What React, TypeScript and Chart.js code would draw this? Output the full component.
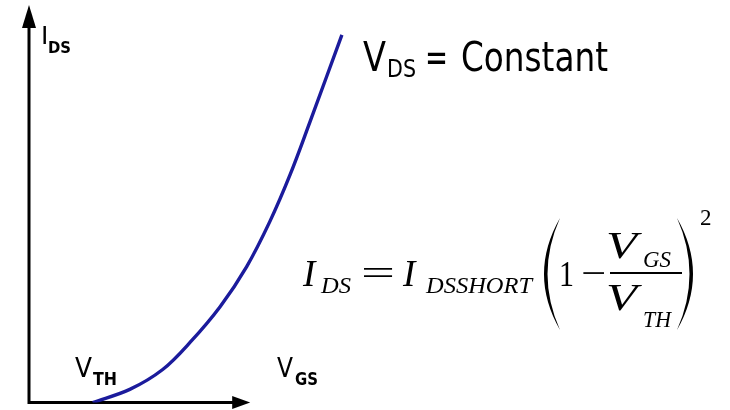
import { useEffect, useRef } from "react";
import { Chart, registerables } from "chart.js";

Chart.register(...registerables);

// Transfer characteristic: drain current versus gate-source voltage (arbitrary units)
const vgs = [0.91, 1.44, 1.91, 2.3, 2.73, 3.11, 3.44, 3.73, 4.01, 4.47];
const ids = [0, 0.33, 0.83, 1.51, 2.41, 3.42, 4.55, 5.73, 7.04, 9.25];

// Axis extents
const X_MAX = 10;
const Y_MAX = 10;
const X_AXIS_END = 3.16;

const SANS = "'DejaVu Sans', Verdana, sans-serif";
const SERIF = "'Liberation Serif', 'Times New Roman', serif";

type Ctx = CanvasRenderingContext2D;

// Draws text with its left edge at x on the given baseline; optionally squeezes/stretches it to a width.
function txt(ctx: Ctx, s: string, font: string, x: number, base: number, width?: number) {
  ctx.save();
  ctx.font = font;
  ctx.textAlign = "left";
  ctx.textBaseline = "alphabetic";
  ctx.fillStyle = "#000";
  if (width) {
    const w = ctx.measureText(s).width;
    ctx.translate(x, base);
    ctx.scale(width / w, 1);
    ctx.fillText(s, 0, 0);
  } else {
    ctx.fillText(s, x, base);
  }
  ctx.restore();
}

// Tall bracket drawn as a filled crescent; dir = -1 for "(", +1 for ")"
function bracket(ctx: Ctx, xTip: number, top: number, bottom: number, bulge: number, thick: number, dir: number) {
  const mid = (top + bottom) / 2;
  ctx.save();
  ctx.fillStyle = "#000";
  ctx.beginPath();
  ctx.moveTo(xTip, top);
  ctx.quadraticCurveTo(xTip + dir * bulge * 2, mid, xTip, bottom);
  ctx.quadraticCurveTo(xTip + dir * (bulge - thick) * 2, mid, xTip, top);
  ctx.closePath();
  ctx.fill();
  ctx.restore();
}

const axesPlugin = {
  id: "arrowAxes",
  beforeDatasetsDraw(chart: Chart) {
    const { ctx } = chart;
    const xs = chart.scales.x;
    const ys = chart.scales.y;
    const x0 = xs.getPixelForValue(0);
    const y0 = ys.getPixelForValue(0);
    const yTop = ys.getPixelForValue(Y_MAX);
    const xEnd = xs.getPixelForValue(X_AXIS_END);
    ctx.save();
    ctx.strokeStyle = "#000";
    ctx.fillStyle = "#000";
    ctx.lineWidth = 3;
    ctx.beginPath();
    ctx.moveTo(x0, y0 + 1.5);
    ctx.lineTo(x0, yTop + 10);
    ctx.moveTo(x0 - 1.5, y0);
    ctx.lineTo(xEnd - 10, y0);
    ctx.stroke();
    // arrow heads
    ctx.beginPath();
    ctx.moveTo(x0, yTop);
    ctx.lineTo(x0 - 7, yTop + 23);
    ctx.lineTo(x0 + 7, yTop + 23);
    ctx.closePath();
    ctx.fill();
    ctx.beginPath();
    ctx.moveTo(xEnd, y0);
    ctx.lineTo(xEnd - 18, y0 - 6.5);
    ctx.lineTo(xEnd - 18, y0 + 6.5);
    ctx.closePath();
    ctx.fill();
    ctx.restore();
  },
  afterDatasetsDraw(chart: Chart) {
    const ctx = chart.ctx;
    // axis labels
    txt(ctx, "I", `25px ${SANS}`, 41, 44);
    txt(ctx, "DS", `bold 16px ${SANS}`, 48, 53, 23);
    txt(ctx, "V", `26px ${SANS}`, 75, 377, 17);
    txt(ctx, "TH", `bold 18px ${SANS}`, 93, 385, 24);
    txt(ctx, "V", `26px ${SANS}`, 277, 377, 16);
    txt(ctx, "GS", `bold 18px ${SANS}`, 295, 385, 23);

    // operating condition
    txt(ctx, "V", `40px ${SANS}`, 363, 71, 23);
    txt(ctx, "DS", `24px ${SANS}`, 387, 77, 29);
    txt(ctx, "=", `40px ${SANS}`, 425, 71, 23);
    txt(ctx, "Constant", `40px ${SANS}`, 461, 71, 147);

    // square-law equation
    txt(ctx, "I", `italic 37px ${SERIF}`, 303, 286);
    txt(ctx, "DS", `italic 24px ${SERIF}`, 321, 293, 30);
    txt(ctx, "=", `36px ${SERIF}`, 361, 285, 34);
    txt(ctx, "I", `italic 37px ${SERIF}`, 403, 286);
    txt(ctx, "DSSHORT", `italic 24px ${SERIF}`, 426, 293, 106);
    bracket(ctx, 560, 218, 330, 16, 3.5, -1);
    txt(ctx, "1", `36px ${SERIF}`, 559, 286, 15);
    txt(ctx, "\u2212", `36px ${SERIF}`, 581, 285, 25);
    txt(ctx, "V", `italic 37px ${SERIF}`, 606, 258, 31);
    txt(ctx, "GS", `italic 24px ${SERIF}`, 643, 267, 28);
    ctx.save();
    ctx.fillStyle = "#000";
    ctx.fillRect(610, 272, 72, 2);
    ctx.restore();
    txt(ctx, "V", `italic 37px ${SERIF}`, 606, 310, 31);
    txt(ctx, "TH", `italic 24px ${SERIF}`, 643, 327, 28);
    bracket(ctx, 677, 218, 330, 16, 3.5, 1);
    txt(ctx, "2", `23px ${SERIF}`, 700, 225);
  },
};

export default function App() {
  const ref = useRef<HTMLCanvasElement | null>(null);

  useEffect(() => {
    if (!ref.current) return;
    const chart = new Chart(ref.current, {
      type: "line",
      data: {
        datasets: [
          {
            data: vgs.map((x, i) => ({ x, y: ids[i] })),
            borderColor: "#1b1b9c",
            borderWidth: 3.4,
            pointRadius: 0,
            fill: false,
            tension: 0.35,
          },
        ],
      },
      options: {
        animation: false,
        responsive: false,
        maintainAspectRatio: false,
        layout: { padding: { left: 29, right: 1, top: 5, bottom: 7.5 } },
        scales: {
          x: { type: "linear", min: 0, max: X_MAX, display: false },
          y: { type: "linear", min: 0, max: Y_MAX, display: false },
        },
        plugins: {
          legend: { display: false },
          tooltip: { enabled: false },
        },
      },
      plugins: [axesPlugin],
    });
    return () => chart.destroy();
  }, []);

  return (
    <div style={{ position: "fixed", left: 0, top: 0, width: 730, height: 410, background: "#fff" }}>
      <canvas ref={ref} width={730} height={410} style={{ display: "block", width: 730, height: 410 }} />
    </div>
  );
}
